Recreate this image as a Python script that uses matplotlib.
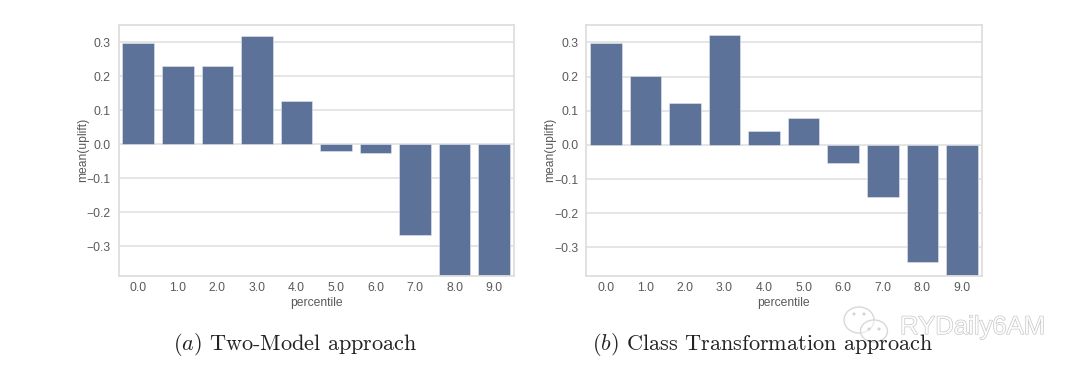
import matplotlib
matplotlib.use('Agg')
import matplotlib.pyplot as plt
import matplotlib.patheffects as pe
from matplotlib.patches import Ellipse

percentiles = ['0.0', '1.0', '2.0', '3.0', '4.0', '5.0', '6.0', '7.0', '8.0', '9.0']
two_model = [0.297, 0.232, 0.231, 0.319, 0.129, -0.020, -0.025, -0.267, -0.390, -0.390]
class_transform = [0.297, 0.202, 0.124, 0.321, 0.040, 0.080, -0.053, -0.152, -0.344, -0.390]
yticks = [-0.3, -0.2, -0.1, 0.0, 0.1, 0.2, 0.3]
caption_a = 'Two-Model approach'
caption_b = 'Class Transformation approach'
watermark = 'RYDaily6AM'

W, H = 1080, 378
plt.rcParams['font.family'] = ['Liberation Sans', 'DejaVu Sans']
plt.rcParams['mathtext.fontset'] = 'cm'
fig = plt.figure(figsize=(W / 100, H / 100), dpi=100, facecolor='white')

BAR = '#5c7299'
TXT = '#5a5a5a'
GRID = '#dedede'


def panel(box, values, ylim):
    l, t, r, b = box
    ax = fig.add_axes([l / W, 1 - b / H, (r - l) / W, (b - t) / H])
    ax.set_axisbelow(True)
    ax.grid(axis='y', color=GRID, lw=1.1)
    ax.bar(range(len(values)), values, width=0.8, color=BAR, edgecolor='#e4e8f0', lw=0.4)
    ax.set_xlim(-0.5, 9.5)
    ax.set_ylim(*ylim)
    ax.set_yticks(yticks)
    ax.set_xticks(range(len(percentiles)), percentiles)
    ax.tick_params(axis='x', length=0, labelsize=8.7, labelcolor=TXT, pad=4.5)
    ax.tick_params(axis='y', length=0, labelsize=8.7, labelcolor=TXT, pad=5.5)
    ax.set_xlabel('percentile', fontsize=8.7, color=TXT, labelpad=2)
    ax.set_ylabel('mean(uplift)', fontsize=8.7, color=TXT, labelpad=-1.5)
    for s in ax.spines.values():
        s.set_color(GRID)
        s.set_linewidth(1.3)
    return ax


panel((118.5, 24.7, 514, 276), two_model, (-0.387, 0.352))
panel((586, 24.7, 981.7, 276), class_transform, (-0.384, 0.352))

cap = dict(fontsize=16, color='#222222', va='center', ha='left', family=['cmr10', 'DejaVu Serif'])
fig.text(173 / W, 1 - 344.5 / H, '$(a)$ ' + caption_a, **cap)
fig.text(592 / W, 1 - 344.5 / H, '$(b)$ ' + caption_b, **cap)

# watermark
overlay = fig.add_axes([0, 0, 1, 1], facecolor='none')
overlay.set_xlim(0, W)
overlay.set_ylim(H, 0)
overlay.axis('off')
for (x, y, w, h) in [(859, 320, 30, 26), (874, 331, 27, 22)]:
    overlay.add_patch(Ellipse((x, y), w, h, fc=(1, 1, 1, 0.45), ec='#d8d8d8', lw=1.0))
for (x, y) in [(854, 314), (864, 314), (869, 329), (879, 329)]:
    overlay.add_patch(Ellipse((x, y), 3, 3, fc='#d2d2d2', ec='none'))
t = overlay.text(900, 327, watermark, fontsize=18.5, color=(1, 1, 1, 0.85), va='center', ha='left',
                 family='Liberation Sans', fontweight='light')
t.set_path_effects([pe.withStroke(linewidth=0.8, foreground='#c0c0c0')])

fig.savefig('out.png', dpi=100, facecolor='white')
